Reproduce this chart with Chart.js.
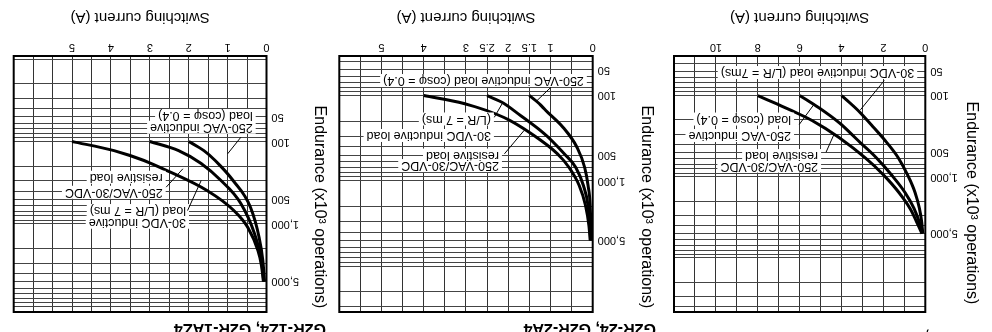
<!DOCTYPE html>
<html>
<head>
<meta charset="utf-8">
<title>G2R endurance curves</title>
<script src="https://cdn.jsdelivr.net/npm/chart.js@4.4.1/dist/chart.umd.min.js"></script>
<style>
  html, body { margin: 0; padding: 0; background: #fff; }
  #sheet { position: relative; width: 992px; height: 332px; overflow: hidden; background: #fff;
           transform: rotate(180deg); transform-origin: 50% 50%; }
  #sheet canvas { position: absolute; top: 0; }
</style>
</head>
<body>
<div id="sheet">
  <canvas id="g2r14" width="330" height="332" style="left:0"></canvas>
  <canvas id="g2r24" width="330" height="332" style="left:330px"></canvas>
  <canvas id="g2r1z4" width="332" height="332" style="left:660px"></canvas>
</div>
<script>
const FONT = '"Liberation Sans", Arial, Helvetica, sans-serif';
Chart.defaults.font.family = FONT;
Chart.defaults.color = '#000';

// Endurance axis labels (x10^3 operations)
const enduranceTickLabels = [50, 100, 500, 1000, 5000];

// G2R-14, G2R-1A4
const r14CurrentTicks = [0, 2, 4, 6, 8, 10];
const r14ResistiveCurrent     = [8, 6.7, 5.41, 4.12, 2.88, 1.97, 1.26, 0.73, 0.4, 0.16];
const r14ResistiveEndurance   = [100, 141, 203, 329, 580, 967, 1565, 2460, 3660, 5000];
const r14AcInductiveCurrent   = [6, 5.08, 4.12, 3.21, 2.35, 1.59, 0.97, 0.54, 0.28, 0.14];
const r14AcInductiveEndurance = [100, 141, 215, 358, 580, 967, 1565, 2460, 3660, 5000];
const r14DcInductiveCurrent   = [4, 3.21, 2.55, 1.92, 1.3, 0.83, 0.49, 0.28, 0.17, 0.12];
const r14DcInductiveEndurance = [100, 153, 234, 358, 580, 967, 1565, 2460, 3660, 5000];

// G2R-24, G2R-2A4
const r24CurrentTicks = [0, 1, 1.5, 2, 2.5, 3, 4, 5];
const r24ResistiveCurrent     = [4, 3.05, 2.1, 1.46, 0.84, 0.56, 0.32, 0.17, 0.09, 0.06];
const r24ResistiveEndurance   = [100, 124, 181, 279, 479, 698, 1135, 1948, 3342, 5000];
const r24DcInductiveCurrent   = [2.5, 2.1, 1.77, 1.15, 0.68, 0.4, 0.22, 0.11, 0.065, 0.05];
const r24DcInductiveEndurance = [100, 124, 163, 279, 479, 698, 1135, 1948, 3342, 5000];
const r24AcInductiveCurrent   = [1.5, 1.27, 1.11, 0.7, 0.37, 0.19, 0.11, 0.06, 0.045, 0.04];
const r24AcInductiveEndurance = [100, 124, 150, 237, 407, 698, 1135, 1948, 3342, 5000];

// G2R-1Z4, G2R-1AZ4
const r1zCurrentTicks = [0, 1, 2, 3, 4, 5];
const r1zResistiveCurrent     = [5, 3.92, 3.15, 2.56, 1.53, 0.84, 0.48, 0.22, 0.13, 0.08];
const r1zResistiveEndurance   = [100, 129, 170, 225, 393, 688, 1106, 2102, 3200, 5000];
const r1zDcInductiveCurrent   = [3, 2.26, 1.68, 1.17, 0.66, 0.31, 0.13, 0.07];
const r1zDcInductiveEndurance = [100, 129, 185, 297, 566, 1308, 2780, 5000];
const r1zAcInductiveCurrent   = [2, 1.61, 1.32, 0.86, 0.41, 0.19, 0.095, 0.05];
const r1zAcInductiveEndurance = [100, 129, 170, 297, 632, 1462, 2780, 5000];

const panels = [
  {
    canvas: 'g2r14', width: 330, title: 'G2R-14, G2R-1A4', titleBaseline: -0.5,
    plotLeft: 66.7, plotRight: 318, xMax: 12, xStep: 1, xTicks: r14CurrentTicks,
    yMin: 32.6, yMax: 46300, yTitleX: 21, yTitleY: 129,
    series: [[r14ResistiveCurrent, r14ResistiveEndurance],
             [r14AcInductiveCurrent, r14AcInductiveEndurance],
             [r14DcInductiveCurrent, r14DcInductiveEndurance]],
    notes: [
      { lines: ['30-VDC inductive load (L/R = 7ms)'], at: [0.53, 52.1], gap: 0, leader: [[1.96, 65.3], [3.1, 150]] },
      { lines: ['250-VAC inductive', 'load (cos\u03c6 = 0.4)'], at: [6.41, 311], gap: 16.5, leader: [[6.02, 227], [5.32, 129]] },
      { lines: ['250-VAC/30-VDC', 'resistive load'], at: [5.12, 739], gap: 10.5, leader: [[4.74, 499], [4.35, 296]] }
    ]
  },
  {
    canvas: 'g2r24', width: 330, title: 'G2R-24, G2R-2A4', titleBaseline: 8.3,
    plotLeft: 69.3, plotRight: 322.7, xMax: 6, xStep: 0.5, xTicks: r24CurrentTicks,
    yMin: 34.4, yMax: 34500, yTitleX: 16, yTitleY: 125,
    series: [[r24ResistiveCurrent, r24ResistiveEndurance],
             [r24DcInductiveCurrent, r24DcInductiveEndurance],
             [r24AcInductiveCurrent, r24AcInductiveEndurance]],
    notes: [
      { lines: ['250-VAC inductive load (cos\u03c6 = 0.4)'], at: [0.21, 66.7], gap: 0, leader: [[0.99, 80], [1.33, 116]] },
      { lines: ['30-VDC inductive load', '(L/R = 7 ms)'], at: [2.41, 294], gap: 16.5, leader: [[2.33, 180], [2.13, 121]] },
      { lines: ['250-VAC/30-VDC', 'resistive load'], at: [2.22, 662], gap: 10.5, leader: [[2.09, 482], [1.62, 255]] }
    ]
  },
  {
    canvas: 'g2r1z4', width: 332, title: 'G2R-1Z4, G2R-1AZ4', titleBaseline: 8.3,
    plotLeft: 65.5, plotRight: 318.3, xMax: 6.5, xStep: 0.5, xTicks: r1zCurrentTicks,
    yMin: 9.16, yMax: 11720, yTitleX: 12.7, yTitleY: 125,
    series: [[r1zResistiveCurrent, r1zResistiveEndurance],
             [r1zDcInductiveCurrent, r1zDcInductiveEndurance],
             [r1zAcInductiveCurrent, r1zAcInductiveEndurance]],
    notes: [
      { lines: ['250-VAC inductive', 'load (cos\u03c6 = 0.4)'], at: [0.355, 67.1], gap: 11.7, leader: [[0.66, 88.7], [1.0, 141]] },
      { lines: ['30-VDC inductive', 'load (L/R = 7 ms)'], at: [2.07, 954], gap: 11.7, leader: [[2.03, 688], [1.68, 297]] },
      { lines: ['250-VAC/30-VDC', 'resistive load'], at: [2.67, 413], gap: 15, leader: [[2.58, 358], [2.15, 214]] }
    ]
  }
];

function linearGrid(max, step) {
  const v = [];
  for (let i = 0; i <= Math.round(max / step); i++) v.push(+(i * step).toFixed(2));
  return v;
}

function logGrid(min, max) {
  const v = [];
  for (let e = 0; e <= 5; e++) {
    for (let m = 1; m < 10; m++) {
      const val = m * Math.pow(10, e);
      if (val >= min && val <= max) v.push(val);
    }
  }
  return v;
}

// Frame, callout labels with leader lines, panel heading and vertical axis title
function makeOverlay(p) {
  return {
    id: 'overlay',
    afterDatasetsDraw(chart) {
      const { ctx, chartArea: a } = chart;
      const xs = chart.scales.x, ys = chart.scales.y;
      const px = (pt) => [xs.getPixelForValue(pt[0]), ys.getPixelForValue(pt[1])];
      ctx.save();
      ctx.font = `12.5px ${FONT}`;
      ctx.textBaseline = 'middle';
      ctx.textAlign = 'left';
      for (const n of p.notes) {
        const [x0, y0] = px(n.at);
        n.lines.forEach((t, i) => {
          const w = ctx.measureText(t).width;
          ctx.fillStyle = '#fff';
          ctx.fillRect(x0 - 3, y0 + i * n.gap - 6.5, w + 6, 13);
        });
        ctx.fillStyle = '#000';
        n.lines.forEach((t, i) => ctx.fillText(t, x0, y0 + i * n.gap));
        const [f, t] = [px(n.leader[0]), px(n.leader[1])];
        ctx.beginPath();
        ctx.moveTo(f[0], f[1]);
        ctx.lineTo(t[0], t[1]);
        ctx.strokeStyle = '#000';
        ctx.lineWidth = 1;
        ctx.stroke();
      }
      ctx.strokeStyle = '#000';
      ctx.lineWidth = 2;
      ctx.strokeRect(a.left, a.top, a.right - a.left, a.bottom - a.top);
      ctx.restore();
    },
    afterDraw(chart) {
      const ctx = chart.ctx;
      ctx.save();
      ctx.fillStyle = '#000';
      ctx.font = `bold 16px ${FONT}`;
      ctx.textAlign = 'left';
      ctx.textBaseline = 'alphabetic';
      ctx.fillText(p.title, 6, p.titleBaseline);
      ctx.font = `16px ${FONT}`;
      ctx.textAlign = 'center';
      ctx.textBaseline = 'middle';
      ctx.translate(p.yTitleX, p.yTitleY);
      ctx.rotate(-Math.PI / 2);
      ctx.fillText('Endurance (x10\u00b3 operations)', 0, 0);
      ctx.restore();
    }
  };
}

function buildPanel(p) {
  const xGrid = linearGrid(p.xMax, p.xStep);
  const yGrid = logGrid(p.yMin, p.yMax);
  new Chart(document.getElementById(p.canvas), {
    type: 'scatter',
    data: {
      datasets: p.series.map(([cur, end]) => ({
        data: cur.map((c, i) => ({ x: c, y: end[i] })),
        showLine: true,
        borderColor: '#000',
        borderWidth: 3,
        pointRadius: 0,
        cubicInterpolationMode: 'monotone',
        fill: false
      }))
    },
    options: {
      responsive: false,
      animation: false,
      events: [],
      layout: { padding: { left: 0, right: p.width - p.plotRight, top: 20, bottom: 0 } },
      plugins: { legend: { display: false }, tooltip: { enabled: false } },
      scales: {
        x: {
          type: 'linear', min: 0, max: p.xMax,
          afterBuildTicks: (s) => { s.ticks = xGrid.map((v) => ({ value: v })); },
          afterFit: (s) => { s.height = 56; },
          ticks: {
            autoSkip: false, maxRotation: 0, padding: 2, font: { size: 11 }, color: '#000',
            callback: (v) => (p.xTicks.includes(v) ? String(v) : '')
          },
          grid: { color: '#333', lineWidth: 1, drawTicks: false },
          border: { display: false },
          title: { display: true, text: 'Switching current (A)', font: { size: 15 }, color: '#000', padding: { top: 0, bottom: 8 } }
        },
        y: {
          type: 'logarithmic', min: p.yMin, max: p.yMax,
          afterBuildTicks: (s) => { s.ticks = yGrid.map((v) => ({ value: v })); },
          afterFit: (s) => { s.width = p.plotLeft; },
          ticks: {
            autoSkip: false, padding: 5, font: { size: 11 }, color: '#000',
            callback: (v) => (enduranceTickLabels.includes(v) ? v.toLocaleString('en-US') : '')
          },
          grid: { color: '#444', lineWidth: 1, drawTicks: false },
          border: { display: false }
        }
      }
    },
    plugins: [makeOverlay(p)]
  });
}

panels.forEach(buildPanel);
</script>
</body>
</html>
